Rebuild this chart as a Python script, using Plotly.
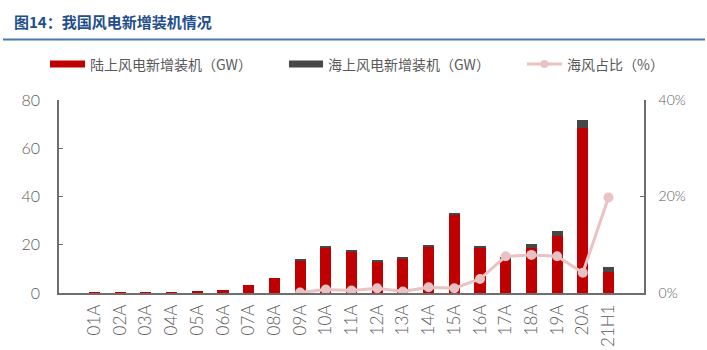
import plotly.graph_objects as go

categories = ["01A", "02A", "03A", "04A", "05A", "06A", "07A", "08A", "09A", "10A",
              "11A", "12A", "13A", "14A", "15A", "16A", "17A", "18A", "19A", "20A", "21H1"]
onshore_gw = [0.05, 0.07, 0.1, 0.2, 0.5, 1.3, 3.4, 6.2, 13.6, 18.8,
              17.4, 12.9, 14.2, 19.3, 32.5, 18.8, 13.6, 18.8, 23.6, 68.6, 8.6]
offshore_gw = [0, 0, 0, 0, 0, 0, 0, 0, 0.3, 0.4,
               0.4, 0.4, 0.5, 0.6, 0.7, 0.7, 1.3, 1.7, 2.1, 3.3, 2.3]
offshore_share = [None, None, None, None, None, None, None, None, 0.1, 0.7,
                  0.5, 1.0, 0.3, 1.2, 1.0, 2.9, 7.6, 7.9, 7.6, 4.2, 19.8]

RED = "#C00000"
DARK = "#474747"
PINK = "#EBC2C3"
GREY_TXT = "#595959"
AXIS = "#6E6E6E"
TICK_FAMILY = "Lato, 'Open Sans', sans-serif"

W, H = 707, 350
L, R, T, B = 59, 63, 100, 57
PW, PH = W - L - R, H - T - B


def px(x):
    return (x - L) / PW


def py(y):
    return (H - B - y) / PH


fig = go.Figure()
fig.add_bar(x=categories, y=onshore_gw, name="陆上风电新增装机（GW）",
            marker=dict(color=RED, line=dict(width=0)))
fig.add_bar(x=categories, y=offshore_gw, name="海上风电新增装机（GW）",
            marker=dict(color=DARK, line=dict(width=0)))
fig.add_scatter(x=categories, y=offshore_share, name="海风占比（%）", yaxis="y2",
                mode="lines+markers", line=dict(color=PINK, width=3),
                marker=dict(color=PINK, size=10), connectgaps=False)

fig.update_layout(
    width=W, height=H,
    margin=dict(l=L, r=R, t=T, b=B, autoexpand=False),
    paper_bgcolor="white", plot_bgcolor="white",
    barmode="stack", bargap=0.57,
    showlegend=False,
    xaxis=dict(tickangle=-90,
               tickfont=dict(family=TICK_FAMILY, size=17, color=GREY_TXT, weight=300),
               showline=True, linecolor=AXIS, linewidth=1.5, ticks="",
               showgrid=False, ticklabelstandoff=3),
    yaxis=dict(range=[0, 80], dtick=20,
               tickfont=dict(family=TICK_FAMILY, size=16, color=GREY_TXT, weight=300),
               showgrid=False,
               showline=True, linecolor=AXIS, linewidth=1.5, ticks="inside",
               ticklen=4, tickcolor=AXIS, zeroline=False, ticklabelstandoff=14),
    yaxis2=dict(range=[0, 40], dtick=20, ticksuffix="%", overlaying="y", side="right",
                tickfont=dict(family=TICK_FAMILY, size=14, color=GREY_TXT, weight=300),
                showgrid=False, showline=True, linecolor=AXIS, linewidth=1.5,
                ticks="inside", ticklen=4, tickcolor=AXIS, zeroline=False,
                ticklabelstandoff=10),
)

# Title and rule beneath it
fig.add_annotation(text="<b>图14：我国风电新增装机情况</b>", xref="paper", yref="paper",
                   x=px(12), y=py(22), xanchor="left", yanchor="middle", showarrow=False,
                   font=dict(family="Noto Sans CJK SC", size=15, color="#1F4E8C"))
fig.add_shape(type="line", xref="paper", yref="paper", x0=px(3), x1=px(705),
              y0=py(39.5), y1=py(39.5), line=dict(color="#4A78B0", width=2))

# Legend drawn by hand so the swatches are wide bars
leg_font = dict(family="Noto Sans CJK SC", size=14, color=GREY_TXT)
ly = 64
fig.add_shape(type="rect", xref="paper", yref="paper", x0=px(50), x1=px(85),
              y0=py(ly + 3.5), y1=py(ly - 3.5), fillcolor=RED, line=dict(width=0))
fig.add_annotation(text="陆上风电新增装机（GW）", xref="paper", yref="paper", x=px(88), y=py(ly),
                   xanchor="left", yanchor="middle", showarrow=False, font=leg_font)
fig.add_shape(type="rect", xref="paper", yref="paper", x0=px(289), x1=px(323),
              y0=py(ly + 3.5), y1=py(ly - 3.5), fillcolor=DARK, line=dict(width=0))
fig.add_annotation(text="海上风电新增装机（GW）", xref="paper", yref="paper", x=px(326), y=py(ly),
                   xanchor="left", yanchor="middle", showarrow=False, font=leg_font)
fig.add_shape(type="line", xref="paper", yref="paper", x0=px(527), x1=px(562),
              y0=py(ly), y1=py(ly), line=dict(color=PINK, width=3))
fig.add_shape(type="circle", xref="paper", yref="paper", x0=px(540.5), x1=px(548.5),
              y0=py(ly + 4), y1=py(ly - 4), fillcolor=PINK, line=dict(width=0))
fig.add_annotation(text="海风占比（%）", xref="paper", yref="paper", x=px(565), y=py(ly),
                   xanchor="left", yanchor="middle", showarrow=False, font=leg_font)

fig.write_html("out.html")
